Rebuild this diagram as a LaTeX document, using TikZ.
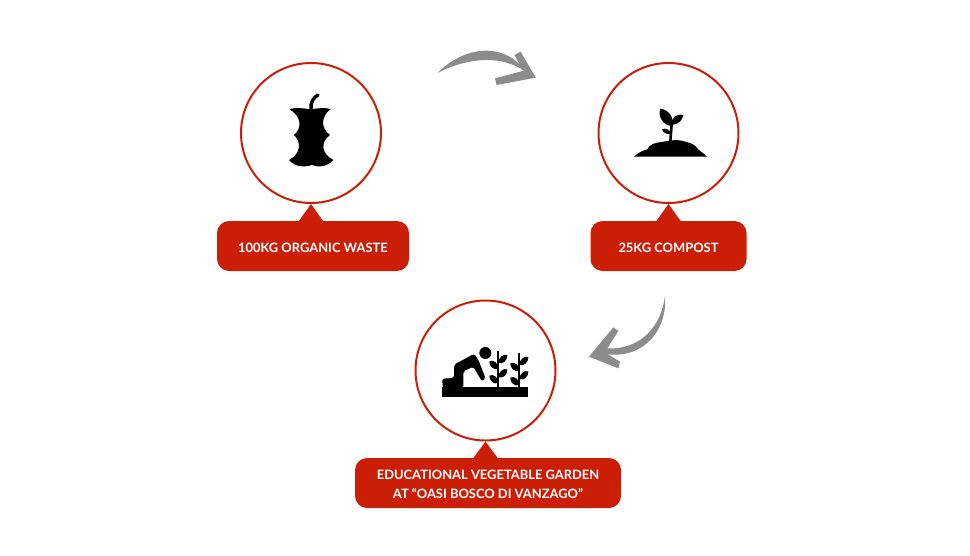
\documentclass[tikz,border=0pt]{standalone}
\usepackage{fontspec}
\setmainfont{Lato}
\usepackage{xcolor}
\usetikzlibrary{positioning}
\definecolor{calloutred}{HTML}{CB1E07}
\definecolor{arrowgrey}{HTML}{8C8C8C}

\begin{document}
\begin{tikzpicture}[x=1pt,y=-1pt,on grid,
        stage/.style={circle,draw=calloutred,line width=2pt,fill=white,minimum size=140pt,inner sep=0pt},
        callout/.style={fill=calloutred,text=white,rounded corners=12pt,minimum height=50pt,inner sep=0pt,
            align=center,font=\bfseries\fontsize{12.9}{18.5}\selectfont},
        oneline/.style={text height=12.5pt,text depth=0pt},
        zoomed/.style={scale=1/3}]

        \useasboundingbox (0,0) rectangle (970,555);

        \node[stage] (waste) at (311,133) {};
        \node[stage,right=357.5pt of waste] (compost) {};
        \node[stage] (garden) at (485.5,370.5) {};

        \node[callout,oneline,minimum width=192pt,below=113pt of waste,xshift=2pt] (wastelabel) {100KG ORGANIC WASTE};
        \node[callout,oneline,minimum width=156pt,below=113pt of compost] (compostlabel) {25KG COMPOST};
        \node[callout,minimum width=266pt,below=112.5pt of garden,xshift=2.5pt] (gardenlabel)
            {\rule{0pt}{12pt}EDUCATIONAL VEGETABLE GARDEN\\AT “OASI BOSCO DI VANZAGO”};

        % tips of the callouts
        \foreach \stage in {waste,compost,garden}
            \fill[calloutred] (\stage.south) -- ([xshift=12pt]\stage.south |- \stage label.north)
                -- ([xshift=-12pt]\stage.south |- \stage label.north) -- cycle;

        % apple core
        \begin{scope}[shift={(230,50)},zoomed]
            \fill (178,177) .. controls (200,172) and (225,175) .. (240,178)
                .. controls (260,175) and (285,172) .. (302,177)
                .. controls (272,200) and (272,235) .. (300,255)
                .. controls (272,275) and (272,310) .. (310,330)
                .. controls (290,352) and (265,352) .. (245,345)
                .. controls (225,352) and (195,352) .. (177,330)
                .. controls (214,310) and (214,275) .. (192,255)
                .. controls (216,235) and (216,200) .. (178,177) -- cycle;
            \draw[line width=3.4pt,line cap=round] (243,178) .. controls (241,158) and (250,142) .. (264,135);
        \end{scope}

        % sprout on its mound
        \begin{scope}[shift={(590,50)},zoomed]
            \fill (132,320) .. controls (145,308) and (160,300) .. (172,298)
                .. controls (178,283) and (195,278) .. (215,276)
                .. controls (235,272) and (255,268) .. (275,272)
                .. controls (295,278) and (310,280) .. (318,290)
                .. controls (325,302) and (340,308) .. (351,320) -- cycle;
            \draw[line width=2.6pt] (241,275) -- (245,222);
            \fill (211,176) .. controls (238,180) and (254,205) .. (246,228)
                .. controls (218,226) and (203,200) .. (211,176);
            \fill (280,195) .. controls (255,190) and (245,205) .. (245,224)
                .. controls (267,224) and (277,210) .. (280,195);
            \fill (216,238) .. controls (228,232) and (242,240) .. (242,252)
                .. controls (230,254) and (219,248) .. (216,238);
        \end{scope}

        % gardener and plants
        \begin{scope}[shift={(420,330)},zoomed]
            \fill (67,170) rectangle (325,200);
            \fill (196,69) circle (18);
            \fill[rounded corners=2pt] (102,104) -- (163,71) -- (176,92) -- (197,146) -- (186,154)
                -- (160,110) -- (130,124) -- (130,172) -- (68,172) -- (67,146) -- (102,144) -- cycle;
            \foreach \stem/\top in {235/62,298/68} {
                \draw[line width=1.8pt] (\stem,\top) -- (\stem,170);
                \foreach \dy in {0,43} {
                    \begin{scope}[shift={(\stem,\top+\dy)}]
                        \fill (0,54) .. controls (0,38) and (-14,25) .. (-27,32)
                            .. controls (-28,46) and (-14,60) .. (0,54);
                        \fill (0,37) .. controls (0,22) and (14,8) .. (27,13)
                            .. controls (28,28) and (14,42) .. (0,37);
                    \end{scope}
                }
            }
        \end{scope}

        % grey turning arrows
        \begin{scope}[shift={(425,40)},zoomed]
            \coordinate (turnstart) at (38,99);
            \coordinate (turntip) at (332,113);
            \fill[arrowgrey] (turnstart) .. controls (95,38) and (205,-2) .. (283,72)
                -- (268,45) -- (287,35) -- (turntip) -- (215,135) -- (210,115) -- (297,92)
                .. controls (220,40) and (115,58) .. (turnstart) -- cycle;
        \end{scope}
        \begin{scope}[shift={(575,285)},zoomed]
            \coordinate (bendstart) at (270,32);
            \coordinate (bendtip) at (42,215);
            \fill[arrowgrey] (bendstart) .. controls (260,120) and (200,195) .. (97,190)
                -- (130,138) -- (115,127) -- (bendtip) -- (130,250) -- (135,230) -- (98,208)
                .. controls (212,220) and (278,130) .. (bendstart) -- cycle;
        \end{scope}
\end{tikzpicture}
\end{document}
